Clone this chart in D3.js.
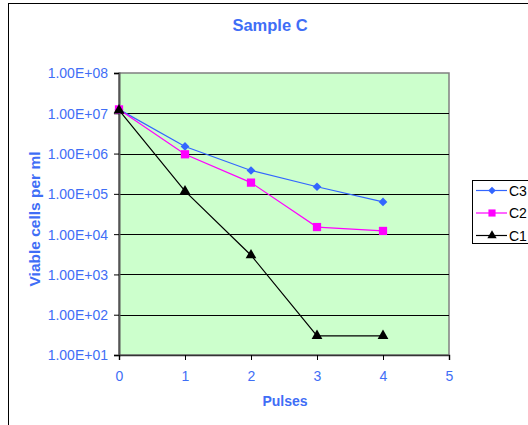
<!DOCTYPE html>
<html>
<head>
<meta charset="utf-8">
<script src="https://cdn.jsdelivr.net/npm/d3@7"></script>
<style>
  body { margin: 0; background: #fff; }
  text { font-family: Arial, "Liberation Sans", sans-serif; }
</style>
</head>
<body>
<svg id="chart" width="528" height="425"></svg>
<script>
const pulses = [0, 1, 2, 3, 4];
const c3 = [1.25e7, 1.5e6, 3.8e5, 1.5e5, 6.3e4];
const c2 = [1.25e7, 9.6e5, 1.9e5, 1.5e4, 1.2e4];
const c1 = [1.2e7, 1.17e5, 3.0e3, 30, 30];
const yTicks = [1e1, 1e2, 1e3, 1e4, 1e5, 1e6, 1e7, 1e8];
const xTicks = [0, 1, 2, 3, 4, 5];

// rotation lets a square serve as the diamond marker
const series = [
    { name: "C3", values: c3, color: "#3366ff", symbol: d3.symbolSquare, size: 38, rot: 45 },
    { name: "C2", values: c2, color: "#ff00ff", symbol: d3.symbolSquare, size: 68, rot: 0 },
    { name: "C1", values: c1, color: "#000000", symbol: d3.symbolTriangle, size: 50, rot: 0 }
];

const blue = "#3f6ef6";
const svg = d3.select("#chart");

// outer chart frame
svg.append("rect")
    .attr("x", 8.5).attr("y", 3.5)
    .attr("width", 530).attr("height", 430)
    .attr("fill", "none").attr("stroke", "#000").attr("stroke-width", 1);

const plot = { left: 119, right: 449, top: 73, bottom: 355 };

const x = d3.scaleLinear().domain([0, 5]).range([plot.left, plot.right]);
const y = d3.scaleLog().domain([1e1, 1e8]).range([plot.bottom, plot.top]);

svg.append("rect")
    .attr("x", plot.left).attr("y", plot.top)
    .attr("width", plot.right - plot.left).attr("height", plot.bottom - plot.top)
    .attr("fill", "#ccffcc").attr("stroke", "#808080").attr("stroke-width", 1.5);

// gridlines
svg.append("g")
    .selectAll("line")
    .data(yTicks.slice(1, -1))
    .join("line")
    .attr("x1", plot.left).attr("x2", plot.right)
    .attr("y1", d => Math.round(y(d)) + 0.5).attr("y2", d => Math.round(y(d)) + 0.5)
    .attr("stroke", "#000").attr("stroke-width", 1);

const fmt = d => {
    const e = Math.round(Math.log10(d));
    return "1.00E+" + String(e).padStart(2, "0");
};

const yAxis = svg.append("g")
    .attr("transform", `translate(${plot.left},0)`)
    .call(d3.axisLeft(y).tickValues(yTicks).tickFormat(fmt).tickSize(5).tickPadding(6));
yAxis.attr("font-size", 14).attr("font-family", null);
yAxis.select(".domain").attr("stroke", "#555").attr("stroke-width", 2);
yAxis.selectAll(".tick line").attr("stroke", "#000");
yAxis.selectAll("text").attr("fill", blue).attr("dy", "0.35em");

const xAxis = svg.append("g")
    .attr("transform", `translate(0,${plot.bottom})`)
    .call(d3.axisBottom(x).tickValues(xTicks).tickFormat(d3.format("d")).tickSize(5).tickPadding(11));
xAxis.attr("font-size", 14).attr("font-family", null);
xAxis.select(".domain").attr("stroke", "#333").attr("stroke-width", 1.5);
xAxis.selectAll(".tick line").attr("stroke", "#000");
xAxis.selectAll("text").attr("fill", blue);

const line = d3.line()
    .x((d, i) => x(pulses[i]))
    .y(d => y(d));

series.forEach(s => {
    svg.append("path")
        .datum(s.values)
        .attr("d", line)
        .attr("fill", "none")
        .attr("stroke", s.color)
        .attr("stroke-width", 1.2);
    svg.append("g")
        .selectAll("path")
        .data(s.values)
        .join("path")
        .attr("transform", (d, i) => `translate(${x(pulses[i])},${y(d)}) rotate(${s.rot})`)
        .attr("d", d3.symbol().type(s.symbol).size(s.size))
        .attr("fill", s.color);
});

// titles
svg.append("text")
    .attr("x", 270).attr("y", 31)
    .attr("text-anchor", "middle")
    .attr("font-size", 16.5).attr("font-weight", "bold")
    .attr("fill", blue)
    .text("Sample C");

svg.append("text")
    .attr("x", 285).attr("y", 406)
    .attr("text-anchor", "middle")
    .attr("font-size", 14).attr("font-weight", "bold")
    .attr("fill", blue)
    .text("Pulses");

svg.append("text")
    .attr("transform", "translate(40,219) rotate(-90)")
    .attr("text-anchor", "middle")
    .attr("font-size", 15.5).attr("font-weight", "bold")
    .attr("fill", blue)
    .text("Viable cells per ml");

// legend
const legend = svg.append("g").attr("transform", "translate(472,180)");
legend.append("rect")
    .attr("x", 0.5).attr("y", 0.5)
    .attr("width", 70).attr("height", 63)
    .attr("fill", "#fff").attr("stroke", "#000");

series.forEach((s, i) => {
    const g = legend.append("g").attr("transform", `translate(0,${10.5 + i * 22.5})`);
    g.append("line")
        .attr("x1", 4).attr("x2", 35)
        .attr("stroke", s.color).attr("stroke-width", 1.2);
    g.append("path")
        .attr("transform", `translate(20,0) rotate(${s.rot})`)
        .attr("d", d3.symbol().type(s.symbol).size(s.size * 0.75))
        .attr("fill", s.color);
    g.append("text")
        .attr("x", 37).attr("y", 5)
        .attr("font-size", 14)
        .attr("fill", "#000")
        .text(s.name);
});
</script>
</body>
</html>
